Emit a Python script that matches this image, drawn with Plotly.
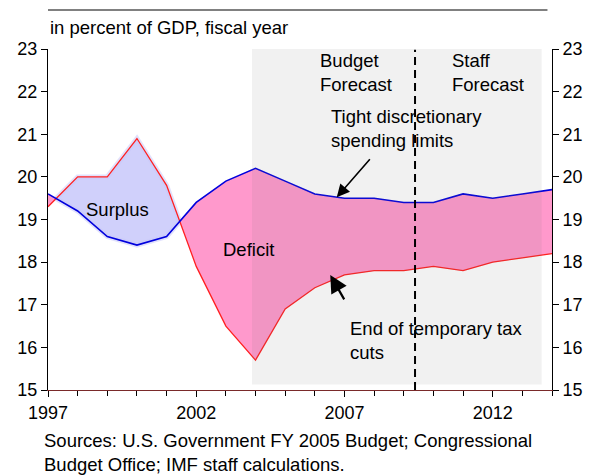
import numpy as np
import plotly.graph_objects as go

# Federal outlays and revenues, percent of GDP, fiscal years
years = list(range(1997, 2015))
outlays = [19.6, 19.2, 18.6, 18.4, 18.6, 19.4, 19.9, 20.2, 19.9, 19.6,
           19.5, 19.5, 19.4, 19.4, 19.6, 19.5, 19.6, 19.7]
revenues = [19.3, 20.0, 20.0, 20.9, 19.8, 17.9, 16.5, 15.7, 16.9, 17.4,
            17.7, 17.8, 17.8, 17.9, 17.8, 18.0, 18.1, 18.2]

forecast_start = 2003.88
forecast_end = 2013.65
staff_start = 2009.38

FONT = "Arial, Liberation Sans, sans-serif"
BLUE = "#0000dd"
RED = "#ff2020"


def with_crossings(x, a, b):
    """Insert the points where series a and b intersect."""
    xs, aa, bb = [x[0]], [a[0]], [b[0]]
    for i in range(1, len(x)):
        d0, d1 = a[i - 1] - b[i - 1], a[i] - b[i]
        if d0 * d1 < 0:
            t = d0 / (d0 - d1)
            xc = x[i - 1] + t * (x[i] - x[i - 1])
            yc = a[i - 1] + t * (a[i] - a[i - 1])
            xs.append(xc); aa.append(yc); bb.append(yc)
        xs.append(x[i]); aa.append(a[i]); bb.append(b[i])
    return np.array(xs, float), np.array(aa, float), np.array(bb, float)


xs, rev, out = with_crossings(years, revenues, outlays)
low = np.minimum(rev, out)

# Span where revenues exceed outlays (between the two crossings)
surplus_idx = np.where(rev >= out - 1e-9)[0]
s0, s1 = surplus_idx[surplus_idx > 0][0], surplus_idx[surplus_idx > 0][-1]
sx = xs[s0:s1 + 1]
surplus_x = np.concatenate([sx, sx[::-1]])
surplus_y = np.concatenate([rev[s0:s1 + 1], out[s0:s1 + 1][::-1]])

fig = go.Figure()

# Surplus: revenues above outlays, with a soft edge
fig.add_trace(go.Scatter(
    x=surplus_x, y=surplus_y, fill="toself", fillcolor="rgba(190,190,250,0.72)",
    mode="lines", line=dict(width=5, color="rgba(200,200,250,0.55)"),
    hoverinfo="skip", showlegend=False))

# Deficit: outlays above revenues
fig.add_trace(go.Scatter(
    x=np.concatenate([xs, xs[::-1]]), y=np.concatenate([out, low[::-1]]),
    fill="toself", fillcolor="#ff99cc", mode="lines",
    line=dict(width=0), hoverinfo="skip", showlegend=False))

fig.add_trace(go.Scatter(x=years, y=revenues, mode="lines",
                         line=dict(color=RED, width=1.3), showlegend=False))
fig.add_trace(go.Scatter(x=years, y=outlays, mode="lines",
                         line=dict(color=BLUE, width=1.6), showlegend=False))
# Mirror axis on the right
fig.add_trace(go.Scatter(x=[years[0]], y=[outlays[0]], yaxis="y2", mode="markers",
                         marker=dict(opacity=0), hoverinfo="skip", showlegend=False))

shapes = [
    # Forecast period shading
    dict(type="rect", xref="x", yref="y", x0=forecast_start, x1=forecast_end,
         y0=15.13, y1=23.1, fillcolor="rgba(120,120,120,0.10)", line=dict(width=0),
         layer="above"),
    # Start of staff forecast
    dict(type="line", xref="x", yref="y", x0=staff_start, x1=staff_start,
         y0=15.0, y1=22.98, line=dict(color="black", width=2, dash="8px,5px"),
         layer="above"),
    # Rule above the subtitle
    dict(type="line", xref="paper", yref="paper", x0=0.0, x1=0.991,
         y0=1.1144, y1=1.1144, line=dict(color="#808080", width=2)),
]

txt = dict(family=FONT, size=18.5, color="black")
annotations = [
    dict(text="in percent of GDP, fiscal year", xref="paper", yref="paper",
         x=0.0, y=1.0636, xanchor="left", yanchor="middle", showarrow=False, font=txt),
    dict(text="Budget<br>Forecast", x=2006.11, y=22.45, xanchor="left",
         yanchor="middle", showarrow=False, font=txt, align="left"),
    dict(text="Staff<br>Forecast", x=2010.56, y=22.45, xanchor="left",
         yanchor="middle", showarrow=False, font=txt, align="left"),
    dict(text="Tight discretionary<br>spending limits", x=2006.48, y=21.13,
         xanchor="left", yanchor="middle", showarrow=False, font=txt, align="left"),
    dict(text="Surplus", x=1999.34, y=19.23, xanchor="center", yanchor="middle",
         showarrow=False, font=txt),
    dict(text="Deficit", x=2003.77, y=18.29, xanchor="center", yanchor="middle",
         showarrow=False, font=txt),
    dict(text="End of temporary tax<br>cuts", x=2007.11, y=16.16, xanchor="left",
         yanchor="middle", showarrow=False, font=txt, align="left"),
    dict(text="", x=2006.74, y=19.52, ax=2007.9, ay=20.45, axref="x", ayref="y",
         showarrow=True, arrowhead=2, arrowsize=1.6, arrowwidth=1.6, arrowcolor="black"),
    dict(text="", x=2006.52, y=17.70, ax=2007.02, ay=17.09, axref="x", ayref="y",
         showarrow=True, arrowhead=2, arrowsize=1.6, arrowwidth=2.2, arrowcolor="black"),
    dict(text="Sources: U.S. Government FY 2005 Budget; Congressional<br>"
              "Budget Office; IMF staff calculations.",
         xref="paper", yref="paper", x=-0.011, y=-0.1833, xanchor="left",
         yanchor="middle", showarrow=False, font=txt, align="left"),
]

tickfont = dict(family=FONT, size=18, color="black")
yaxis_common = dict(range=[15, 23], dtick=1, tickvals=list(range(15, 24)),
                    ticks="outside", ticklen=6, tickcolor="black",
                    showline=True, linecolor="black", linewidth=1,
                    showgrid=False, zeroline=False, tickfont=tickfont,
                    fixedrange=True, automargin=False)

fig.update_layout(
    width=589, height=475,
    margin=dict(l=47.5, r=36.5, t=49, b=85),
    paper_bgcolor="white", plot_bgcolor="white",
    font=dict(family=FONT, size=18, color="black"),
    xaxis=dict(range=[1997, 2014], tickvals=[1997, 2002, 2007, 2012],
               ticks="outside", ticklen=6, tickcolor="black",
               minor=dict(dtick=1, tick0=1997, ticks="outside", ticklen=5,
                          tickcolor="black", showgrid=False),
               showline=True, linecolor="#7a2a2a", linewidth=1.3,
               showgrid=False, zeroline=False, tickfont=tickfont, automargin=False),
    yaxis=yaxis_common,
    yaxis2=dict(yaxis_common, overlaying="y", side="right"),
    shapes=shapes,
    annotations=annotations,
)

fig.write_html("out.html")
